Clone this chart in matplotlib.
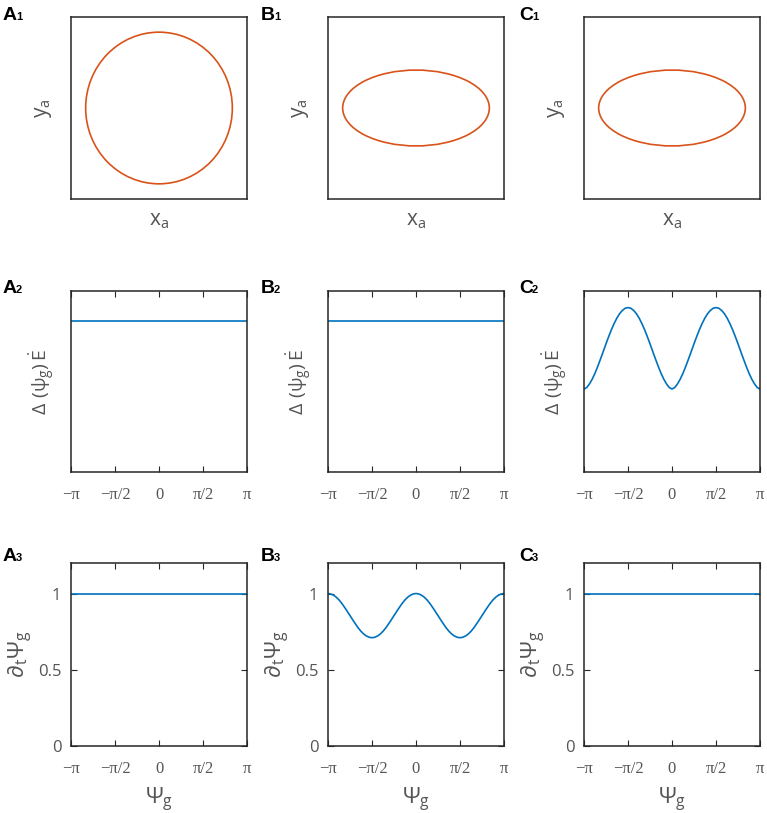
import numpy as np
import matplotlib
matplotlib.use("Agg")
import matplotlib.pyplot as plt
from matplotlib.patches import Ellipse

plt.rcParams['mathtext.fontset'] = 'custom'
plt.rcParams['mathtext.rm'] = 'Open Sans'
plt.rcParams['mathtext.it'] = 'Open Sans'
plt.rcParams['mathtext.bf'] = 'Open Sans:bold'
plt.rcParams['mathtext.fallback'] = 'stixsans'
plt.rcParams['font.family'] = ['Open Sans', 'DejaVu Sans']

# --- data ---
cols = ["A", "B", "C"]
# ellipse semi-axes (row 1)
semi_x = [1.0, 1.0, 1.0]
semi_y = [1.0, 0.5, 0.5]

# psi grid, step pi/32
psi = np.linspace(-np.pi, np.pi, 65)
flat_psi = [-np.pi, np.pi]
flat_val = [1.0, 1.0]

# quarter period (0..pi/2), mirrored / repeated over -pi..pi
b3_quarter = [1.0, 0.997, 0.989, 0.976, 0.958, 0.936, 0.910, 0.883, 0.855,
              0.827, 0.800, 0.774, 0.752, 0.734, 0.721, 0.713, 0.710]
c2_quarter = [0.55, 0.560, 0.584, 0.616, 0.655, 0.700, 0.749, 0.799, 0.850,
              0.899, 0.945, 0.986, 1.022, 1.051, 1.072, 1.086, 1.09]
b3_half = b3_quarter + b3_quarter[-2::-1]
c2_half = c2_quarter + c2_quarter[-2::-1]
b3_vals = b3_half + b3_half[1:]
c2_vals = c2_half + c2_half[1:]

xticks = [-np.pi, -np.pi / 2, 0, np.pi / 2, np.pi]
xticklabels = ["\u2212\u03c0", "\u2212\u03c0/2", "0", "\u03c0/2", "\u03c0"]

blue = "#0072BD"
orange = "#D95319"
gray = "#555555"
spine = "#262626"

W, H = 767, 813
fig = plt.figure(figsize=(W / 100, H / 100), dpi=100)

col_left = [71, 328, 584]
row_top = [17, 291, 563]
row_h = [182, 181, 183]
ax_w = 176


def make_ax(r, c):
    l = col_left[c] / W
    b = 1 - (row_top[r] + row_h[r]) / H
    ax = fig.add_axes([l, b, ax_w / W, row_h[r] / H])
    for s in ax.spines.values():
        s.set_color(spine)
        s.set_linewidth(1.1)
    return ax


def panel_label(r, c):
    x = [3, 261, 519][c] / W
    y = 1 - [20, 293, 561][r] / H
    fig.text(x, y, cols[c], fontsize=14, fontweight='bold',
             family=['Liberation Sans', 'DejaVu Sans'], va='baseline')
    fig.text(x + 13 / W, y, str(r + 1), fontsize=8, fontweight='bold',
             family=['Liberation Sans', 'DejaVu Sans'], va='baseline')


def psi_axis(ax):
    ax.set_xlim(-np.pi, np.pi)
    ax.set_xticks(xticks)
    ax.set_xticklabels(xticklabels, family=['Liberation Serif', 'DejaVu Serif'],
                       fontsize=12, color=gray)
    ax.tick_params(axis='both', direction='in', length=4, width=0.8,
                   top=True, right=True, pad=11, colors=spine, labelcolor=gray)


# row 1: ellipses
for c in range(3):
    ax = make_ax(0, c)
    ax.add_patch(Ellipse((0, 0), 2 * semi_x[c], 2 * semi_y[c], fill=False,
                         edgecolor=orange, linewidth=1.2))
    ax.set_xlim(-1.2, 1.2)
    ax.set_ylim(-1.2, 1.2)
    ax.set_xticks([])
    ax.set_yticks([])
    ax.set_xlabel(r'$\mathrm{x}_{\mathrm{a}}$', fontsize=15, color=gray, labelpad=8)
    ax.set_ylabel(r'$\mathrm{y}_{\mathrm{a}}$', fontsize=15, color=gray, labelpad=12)
    panel_label(0, c)

# row 2: energy change
for c in range(3):
    ax = make_ax(1, c)
    if c == 2:
        ax.plot(psi, c2_vals, color=blue, linewidth=1.2)
    else:
        ax.plot(flat_psi, flat_val, color=blue, linewidth=1.2)
    psi_axis(ax)
    ax.set_ylim(0, 1.2)
    ax.set_yticks([])
    ax.set_ylabel(r'$\Delta\ (\psi_{\mathrm{g}})\,\dot{\mathrm{E}}$', fontsize=14,
                  color=gray, labelpad=10)
    panel_label(1, c)

# row 3: phase velocity
for c in range(3):
    ax = make_ax(2, c)
    if c == 1:
        ax.plot(psi, b3_vals, color=blue, linewidth=1.2)
    else:
        ax.plot(flat_psi, flat_val, color=blue, linewidth=1.2)
    psi_axis(ax)
    ax.tick_params(axis='y', pad=7)
    ax.set_ylim(0, 1.2)
    ax.set_yticks([0, 0.5, 1])
    ax.set_yticklabels(["0", "0.5", "1"], fontsize=12)
    ax.set_ylabel(r'$\partial_{\mathrm{t}}\Psi_{\mathrm{g}}$', fontsize=16,
                  color=gray, labelpad=2)
    ax.set_xlabel(r'$\Psi_{\mathrm{g}}$', fontsize=16, color=gray, labelpad=6)
    panel_label(2, c)

fig.savefig("out.png", dpi=100, facecolor='white')
